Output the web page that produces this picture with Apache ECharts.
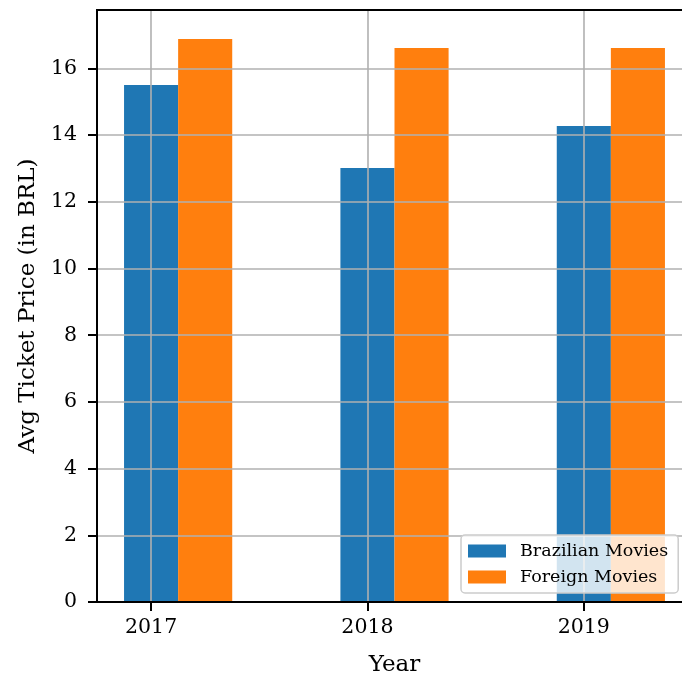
<!DOCTYPE html>
<html>
<head>
<meta charset="utf-8">
<script src="https://cdn.jsdelivr.net/npm/echarts@6/dist/echarts.min.js"></script>
<style>
  html, body { margin: 0; padding: 0; background: #fff; overflow: hidden; }
  #chart { width: 682px; height: 678px; }
</style>
</head>
<body>
<div id="chart"></div>
<script>
// Average ticket price per year, Brazilian vs foreign films
const years = ['2017', '2018', '2019'];
const brazilian = [15.5, 13.01, 14.27];
const foreign = [16.88, 16.61, 16.61];
const yTicks = [0, 2, 4, 6, 8, 10, 12, 14, 16];

const FONT = '"DejaVu Serif", "Liberation Serif", serif';
const BAR = 0.25;             // bar width in x units
const X_MIN = -0.25, X_MAX = 2.5;
// the plot frame runs slightly past the right edge of the page
const GRID_LEFT = 97, GRID_TOP = 10, GRID_W = 595, GRID_H = 592;
const barPx = BAR * GRID_W / (X_MAX - X_MIN);

const positions = years.map((_, i) => i);
const blueData = brazilian.map((v, i) => [positions[i], v]);
const orangeData = foreign.map((v, i) => [positions[i] + BAR, v]);

const chart = echarts.init(document.getElementById('chart'), null, { renderer: 'canvas' });
chart.setOption({
  animation: false,
  backgroundColor: '#ffffff',
  grid: {
    left: GRID_LEFT, top: GRID_TOP, width: GRID_W, height: GRID_H,
    outerBoundsMode: 'none', containLabel: false,
    show: true, borderColor: '#000', borderWidth: 2, backgroundColor: 'transparent'
  },
  legend: {
    orient: 'vertical',
    left: 461, top: 535,
    icon: 'rect',
    itemWidth: 38, itemHeight: 13, itemGap: 8,
    padding: [7, 10, 7, 7],
    backgroundColor: 'rgba(255,255,255,0.8)',
    borderColor: '#cccccc', borderWidth: 1.5, borderRadius: 4,
    textStyle: { fontFamily: FONT, fontSize: 17.5, color: '#000', padding: [0, 0, 0, 9], lineHeight: 18 },
    data: ['Brazilian Movies', 'Foreign Movies']
  },
  xAxis: [
    {
      type: 'value', min: X_MIN, max: X_MAX, z: 3,
      name: 'Year', nameLocation: 'middle', nameGap: 52,
      nameTextStyle: { fontFamily: FONT, fontSize: 23, color: '#000' },
      axisLine: { show: true, onZero: false, lineStyle: { color: '#000', width: 2 } },
      axisTick: { show: true, length: 9, customValues: positions, lineStyle: { color: '#000', width: 2 } },
      axisLabel: {
        customValues: positions, margin: 15,
        fontFamily: FONT, fontSize: 20.5, color: '#000',
        formatter: v => years[Math.round(v)]
      },
      splitLine: { show: true, lineStyle: { color: '#b0b0b0', width: 1.6 } }
    },
    {
      // top frame edge
      type: 'value', position: 'top', min: X_MIN, max: X_MAX, z: 4,
      axisLine: { show: true, onZero: false, lineStyle: { color: '#000', width: 2 } },
      axisTick: { show: false }, axisLabel: { show: false }, splitLine: { show: false }
    }
  ],
  yAxis: {
    type: 'value', min: 0, max: 17.75, interval: 2, z: 3,
    name: 'Avg Ticket Price (in BRL)', nameLocation: 'middle', nameGap: 57,
    nameTextStyle: { fontFamily: FONT, fontSize: 23, color: '#000' },
    axisLine: { show: true, onZero: false, lineStyle: { color: '#000', width: 2 } },
    axisTick: { show: true, length: 9, lineStyle: { color: '#000', width: 2 } },
    axisLabel: {
      showMaxLabel: false, margin: 20,
      fontFamily: FONT, fontSize: 20.5, color: '#000',
      formatter: v => (yTicks.includes(v) ? String(v) : '')
    },
    splitLine: { show: true, lineStyle: { color: '#b0b0b0', width: 1.6 } }
  },
  series: [
    {
      name: 'Brazilian Movies', type: 'bar', data: blueData,
      barWidth: barPx, barGap: '-100%',
      itemStyle: { color: '#1f77b4' }
    },
    {
      name: 'Foreign Movies', type: 'bar', data: orangeData,
      barWidth: barPx, barGap: '-100%',
      itemStyle: { color: '#ff7f0e' }
    }
  ]
});
</script>
</body>
</html>
